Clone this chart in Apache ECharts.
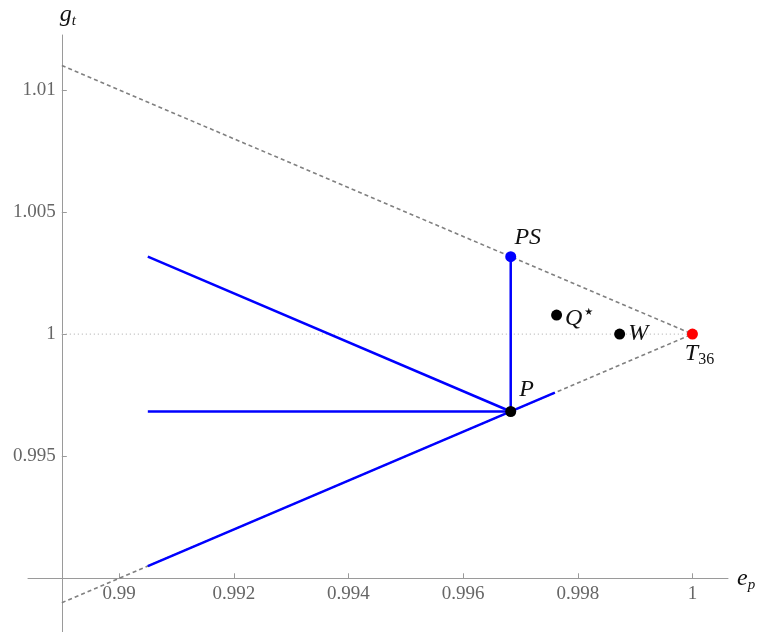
<!DOCTYPE html>
<html>
<head>
<meta charset="utf-8">
<script src="https://cdn.jsdelivr.net/npm/echarts@6/dist/echarts.min.js"></script>
<style>
  html, body { margin: 0; padding: 0; background: #fff; }
  #chart { width: 758px; height: 632px; }
</style>
</head>
<body>
<div id="chart"></div>
<script>
// Tick values on both axes
const xTicks = [0.99, 0.992, 0.994, 0.996, 0.998, 1];
const yTicks = [0.995, 1, 1.005, 1.01];

// Visible plot range and the point where the two axes cross
const xRange = [0.98841, 1.00062];
const yRange = [0.9878, 1.01225];
const axisCross = [0.989, 0.990];

// Labelled points
const pointNames = ['P', 'PS', 'Q*', 'W', 'T36'];
const pointX = [0.99683, 0.99683, 0.99763, 0.99873, 1];
const pointY = [0.99683, 1.00317, 1.00078, 1, 1];

// Grey boundaries meeting at T36, and the parity line g_t = 1
const upperBoundX = [0.989, 1];
const upperBoundY = [1.011, 1];
const lowerBoundX = [0.989, 1];
const lowerBoundY = [0.989, 1];
const parityX = [0.989, 1];
const parityY = [1, 1];

// Blue segments through P
const segFallX = [0.9905, 0.99683];
const segFallY = [1.00317, 0.99683];
const segFlatX = [0.9905, 0.99683];
const segFlatY = [0.99683, 0.99683];
const segRiseX = [0.9905, 0.9976];
const segRiseY = [0.9905, 0.9976];
const segUpX = [0.99683, 0.99683];
const segUpY = [0.99683, 1.00317];

const pairs = (xs, ys) => xs.map((x, i) => [x, ys[i]]);

const grid = { left: 28, top: 35, width: 700, height: 597 };
// Shift the axes from the grid edges to the crossing point
const xAxisOffset = -grid.height * (axisCross[1] - yRange[0]) / (yRange[1] - yRange[0]);
const yAxisOffset = -grid.width * (axisCross[0] - xRange[0]) / (xRange[1] - xRange[0]);

const serif = 'Liberation Serif';
const axisGrey = '#9a9a9a';
const ink = '#111';
const tickText = { fontFamily: serif, fontSize: 19, color: '#666' };
const rich = {
  i: { fontFamily: serif, fontStyle: 'italic', fontSize: 24, color: ink, lineHeight: 28 },
  isub: { fontFamily: serif, fontStyle: 'italic', fontSize: 15, color: ink, lineHeight: 14, verticalAlign: 'bottom' },
  sub: { fontFamily: serif, fontSize: 16, color: ink, lineHeight: 14, verticalAlign: 'bottom' },
  sup: { fontFamily: 'DejaVu Sans', fontSize: 20, color: ink, padding: [0, 0, 12, 0] }
};
const labelText = {
  'P': '{i|P}',
  'PS': '{i|PS}',
  'Q*': '{i|Q}{sup|⋆}',
  'W': '{i|W}',
  'T36': '{i|T}{sub|36}'
};
const pointColor = { 'P': '#000', 'PS': '#0000ff', 'Q*': '#000', 'W': '#000', 'T36': '#ff0000' };
const pointLabel = {
  'P': { position: 'right', distance: 3, offset: [0, -22] },
  'PS': { position: 'top', distance: 0, offset: [17, 0] },
  'Q*': { position: 'right', distance: 3, offset: [0, 4] },
  'W': { position: 'right', distance: 3, offset: [0, 0] },
  'T36': { position: 'bottom', distance: 0, offset: [7, 0] }
};

function lineSeries(xs, ys, style, z) {
  return {
    type: 'line', data: pairs(xs, ys), symbol: 'none', silent: true,
    lineStyle: style, z: z, animation: false
  };
}

const dashed = { color: '#808080', width: 1.6, type: [4, 3] };
const blue = { color: '#0000ff', width: 2.5 };

const option = {
  animation: false,
  backgroundColor: '#fff',
  grid: Object.assign({ containLabel: false, outerBoundsMode: 'none' }, grid),
  xAxis: {
    type: 'value', min: xRange[0], max: xRange[1], offset: xAxisOffset,
    axisLine: { show: true, lineStyle: { color: axisGrey, width: 1 } },
    axisTick: { show: true, inside: true, length: 5, customValues: xTicks, lineStyle: { color: axisGrey } },
    axisLabel: Object.assign({ customValues: xTicks, margin: 6, formatter: v => String(+(+v).toFixed(4)) }, tickText),
    splitLine: { show: false },
    name: '{i|e}{isub|p}', nameLocation: 'end', nameGap: 9,
    nameTextStyle: { rich: rich, align: 'left', verticalAlign: 'middle' }
  },
  yAxis: {
    type: 'value', min: yRange[0], max: yRange[1], offset: yAxisOffset,
    axisLine: { show: true, lineStyle: { color: axisGrey, width: 1 } },
    axisTick: { show: true, inside: true, length: 5, customValues: yTicks, lineStyle: { color: axisGrey } },
    axisLabel: Object.assign({ customValues: yTicks, margin: 6, formatter: v => String(+(+v).toFixed(4)) }, tickText),
    splitLine: { show: false },
    name: '{i|g}{isub|t}', nameLocation: 'end', nameGap: 6,
    nameTextStyle: { rich: rich, align: 'left', padding: [0, 0, 0, -2] }
  },
  series: [
    lineSeries(parityX, parityY, { color: '#a8a8a8', width: 1, type: [1, 3] }, 1),
    lineSeries(upperBoundX, upperBoundY, dashed, 2),
    lineSeries(lowerBoundX, lowerBoundY, dashed, 2),
    lineSeries(segFallX, segFallY, blue, 3),
    lineSeries(segFlatX, segFlatY, blue, 3),
    lineSeries(segRiseX, segRiseY, blue, 3),
    lineSeries(segUpX, segUpY, blue, 3),
    {
      type: 'scatter', z: 5, animation: false, symbolSize: 11,
      data: pointNames.map((name, i) => ({
        name: name,
        value: [pointX[i], pointY[i]],
        itemStyle: { color: pointColor[name], opacity: 1 },
        label: Object.assign({ show: true, formatter: labelText[name], rich: rich }, pointLabel[name])
      }))
    }
  ]
};

const chart = echarts.init(document.getElementById('chart'), null, { renderer: 'canvas' });
chart.setOption(option);
</script>
</body>
</html>
